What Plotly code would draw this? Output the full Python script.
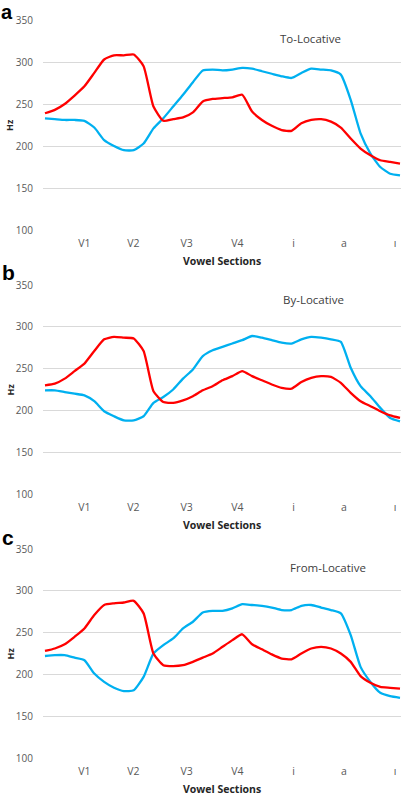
import plotly.graph_objects as go

# sample index along the utterance (uniform time steps)
idx = list(range(37))

# tick labels (vowel sections) and their positions on the sample index axis
tick_labels = ["V1", "V2", "V3", "V4", "i", "a", "ı"]
tick_pos = [3.99, 8.96, 14.37, 19.5, 25.2, 30.3, 35.5]

y_ticks = [100, 150, 200, 250, 300, 350]

# Panel a: To-Locative
a_red = [239, 243, 250, 260, 271, 287, 303, 308, 308, 309, 295, 247, 230, 232, 234, 240, 253, 256,
         257, 258, 261, 241, 231, 224, 219, 218, 227, 231, 232, 229, 222, 209, 197, 189, 183, 181, 179]
a_blue = [233, 232, 231, 231, 230, 222, 207, 200, 195, 195, 203, 221, 233, 247, 261, 276, 290, 291,
          290, 291, 293, 292, 289, 286, 283, 281, 287, 292, 291, 290, 285, 255, 215, 191, 175, 167, 165]

# Panel b: By-Locative
b_red = [230, 232, 238, 247, 256, 271, 285, 288, 287, 286, 271, 223, 210, 209, 212, 217, 224, 229,
         236, 241, 247, 241, 236, 231, 227, 226, 234, 239, 241, 240, 233, 221, 211, 205, 199, 194, 191]
b_blue = [224, 224, 222, 220, 218, 211, 199, 193, 188, 188, 193, 209, 216, 225, 238, 249, 265, 272,
          276, 280, 284, 289, 287, 284, 281, 280, 285, 288, 287, 285, 282, 251, 229, 217, 203, 191, 187]

# Panel c: From-Locative
c_red = [228, 231, 236, 245, 255, 271, 283, 285, 286, 288, 273, 225, 211, 210, 211, 215, 220, 225,
         233, 241, 248, 236, 230, 224, 219, 218, 225, 231, 233, 231, 225, 215, 198, 190, 185, 184, 183]
c_blue = [222, 223, 223, 220, 217, 201, 191, 184, 180, 181, 197, 225, 235, 243, 255, 263, 274, 276,
          276, 279, 284, 283, 282, 280, 277, 277, 282, 283, 280, 277, 273, 247, 209, 191, 178, 174, 172]

panels = [
    ("a", "To-Locative", a_red, a_blue),
    ("b", "By-Locative", b_red, b_blue),
    ("c", "From-Locative", c_red, c_blue),
]

W, H = 404, 795
RED = "#FF0000"
BLUE = "#00B0F0"
GRID = "#D9D9D9"
TXT = "#595959"
FONT = "Open Sans"

# pixel layout of each panel (top of 350 line, bottom of 100 line)
panel_px = [(20, 230), (285, 494), (549, 758)]
x_left, x_right = 43, 401

fig = go.Figure()
annotations = []

for k, (letter, title, red, blue) in enumerate(panels):
    n = "" if k == 0 else str(k + 1)
    top, bot = panel_px[k]
    fig.add_trace(go.Scatter(x=idx, y=blue, mode="lines", line=dict(color=BLUE, width=2.3, shape="spline", smoothing=0.5),
                             xaxis="x" + n, yaxis="y" + n, showlegend=False, hoverinfo="skip"))
    fig.add_trace(go.Scatter(x=idx, y=red, mode="lines", line=dict(color=RED, width=2.3, shape="spline", smoothing=0.5),
                             xaxis="x" + n, yaxis="y" + n, showlegend=False, hoverinfo="skip"))
    fig.layout["xaxis" + n] = dict(
        domain=[x_left / W, x_right / W], range=[-0.2, 36.1], anchor="y" + n,
        tickmode="array", tickvals=tick_pos, ticktext=tick_labels,
        showgrid=False, zeroline=False, showline=False, ticks="", automargin=False,
        ticklabeloverflow="allow",
        tickfont=dict(family=FONT, size=10.5, color=TXT), ticklabelstandoff=5,
    )
    fig.layout["yaxis" + n] = dict(
        domain=[1 - bot / H, 1 - top / H], range=[100, 350], anchor="x" + n,
        tickmode="array", tickvals=y_ticks, automargin=False,
        showgrid=True, gridcolor=GRID, gridwidth=1, zeroline=False, showline=False, ticks="",
        tickfont=dict(family=FONT, size=10, color=TXT), ticklabelstandoff=9,
    )
    # panel letter
    if k == 0:
        annotations.append(dict(text="<b>" + letter + "</b>", x=0, y=1, xref="paper", yref="paper",
                                xanchor="left", yanchor="top", showarrow=False, borderpad=0,
                                font=dict(family="Liberation Sans", size=20, color="#000000")))
    else:
        annotations.append(dict(text="<b>" + letter + "</b>", x=0, y=1 - (top - 12) / H, xref="paper", yref="paper",
                                xanchor="left", yanchor="middle", showarrow=False,
                                font=dict(family="Liberation Sans", size=21, color="#000000")))
    # panel title
    tx = [310, 313, 328][k]
    ty = [top + 19, top + 14, top + 18][k]
    annotations.append(dict(text=title, x=tx / W, y=1 - ty / H, xref="paper", yref="paper",
                            xanchor="center", yanchor="middle", showarrow=False,
                            font=dict(family=FONT, size=11.5, color="#404040")))
    # y axis title
    annotations.append(dict(text="<b>Hz</b>", x=10 / W, y=1 - ((top + bot) / 2) / H, xref="paper", yref="paper",
                            xanchor="center", yanchor="middle", showarrow=False, textangle=-90,
                            font=dict(family=FONT, size=9, color="#262626")))
    # x axis title
    annotations.append(dict(text="<b>Vowel Sections</b>", x=222 / W, y=1 - (bot + 31) / H, xref="paper", yref="paper",
                            xanchor="center", yanchor="middle", showarrow=False,
                            font=dict(family=FONT, size=10.5, color="#262626")))

fig.update_layout(
    width=W, height=H,
    margin=dict(l=0, r=0, t=0, b=0, pad=0, autoexpand=False),
    paper_bgcolor="white", plot_bgcolor="white",
    annotations=annotations,
    showlegend=False,
)

fig.write_html("out.html", config={"displayModeBar": False, "staticPlot": True},
               post_script="document.body.style.margin='0';document.body.style.overflow='hidden';")
